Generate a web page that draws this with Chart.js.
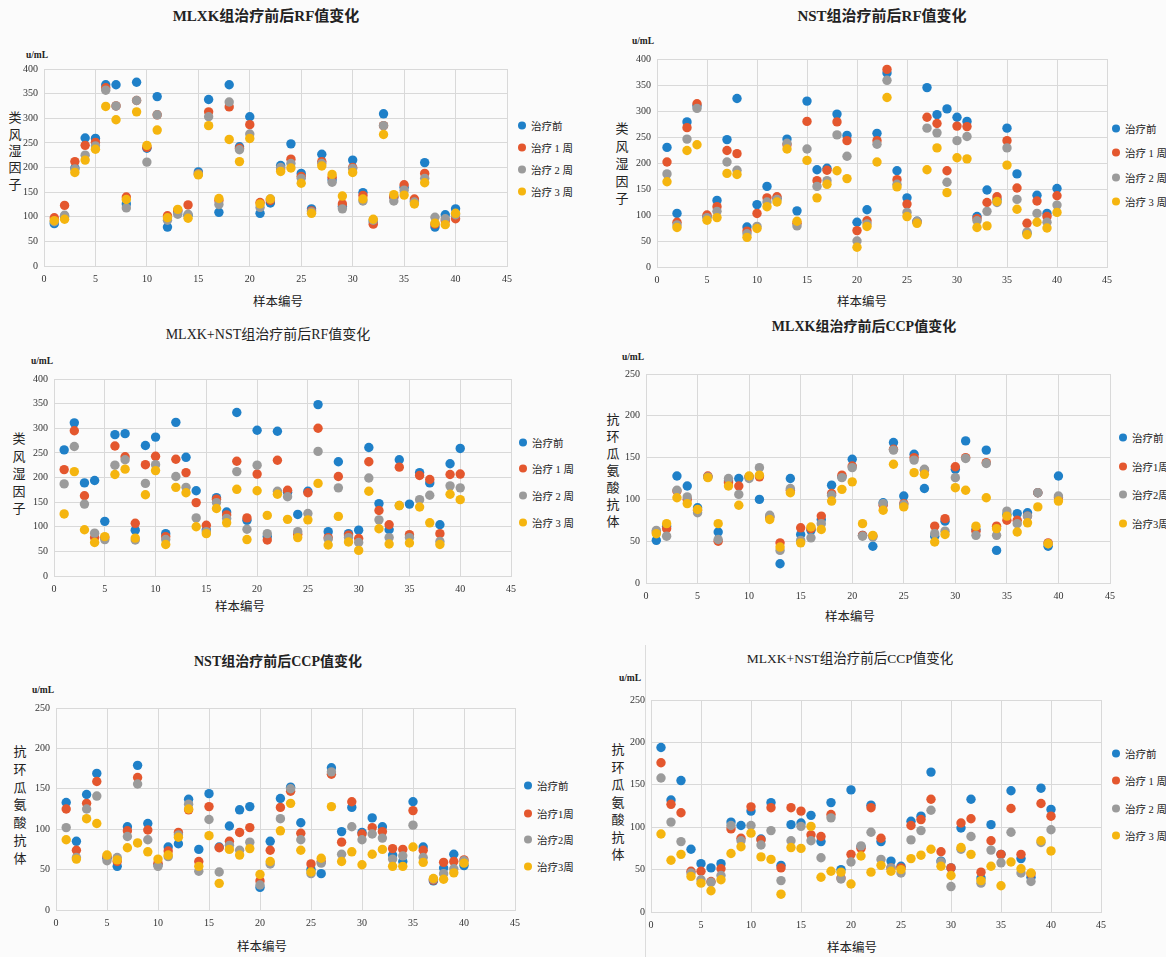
<!DOCTYPE html>
<html><head><meta charset="utf-8">
<script src="https://cdn.jsdelivr.net/npm/chart.js@4.4.0/dist/chart.umd.min.js"></script>
<style>
body{margin:0;width:1166px;height:957px;background:#fbfbfb;position:relative;overflow:hidden;font-family:"Liberation Serif","Noto Sans CJK SC",serif;color:#222;}
.a{position:absolute;white-space:nowrap;}
.c{transform:translate(-50%,-50%);}
.ttl{font-family:"Liberation Serif","Noto Sans CJK SC",serif;}
.unit{font-size:9.5px;font-weight:bold;}
.yl{font-family:"Noto Sans CJK SC",sans-serif;font-size:13px;text-align:center;width:16px;}
.xt{font-family:"Noto Sans CJK SC",sans-serif;font-size:12.5px;}
.lg{font-family:"Liberation Serif","Noto Sans CJK SC",serif;font-size:10.5px;display:flex;align-items:center;transform:translateY(-50%);}
.dot{display:inline-block;width:8px;height:8px;border-radius:50%;margin-right:5px;}
canvas{position:absolute;}
</style></head>
<body>
<div class="a" style="left:645px;top:645px;width:1px;height:312px;background:#dcdcdc"></div>
<script>
const samples = [1,2,3,4,5,6,7,8,9,10,11,12,13,14,15,16,17,18,19,20,21,22,23,24,25,26,27,28,29,30,31,32,33,34,35,36,37,38,39,40];

// Chart 1: MLXK RF
const rf1_before = [86,100,199,260,259,368,368,126,373,239,344,79,110,103,191,338,109,368,242,303,107,128,204,248,188,116,227,175,121,215,149,90,309,140,160,132,210,79,104,116];
const rf1_w1 = [98,123,212,245,251,362,325,140,336,241,307,102,113,124,187,313,133,323,239,287,129,133,197,217,182,112,212,180,126,200,143,85,285,140,165,136,188,85,92,96];
const rf1_w2 = [90,103,197,225,244,357,325,118,336,211,307,93,105,105,187,303,125,333,236,268,119,136,200,208,178,110,208,170,116,198,132,93,285,132,154,130,178,99,96,104];
const rf1_w3 = [92,95,190,215,237,324,297,135,313,245,276,98,115,97,185,285,137,257,212,259,126,136,192,199,168,107,203,186,142,190,136,95,267,145,144,126,169,87,84,107];

// Chart 2: NST RF
const rf2_before = [230,103,279,310,97,128,245,324,77,120,155,132,246,108,319,187,190,294,253,86,110,257,373,185,133,88,345,293,304,288,280,97,148,130,267,179,65,138,103,151];
const rf2_w1 = [202,86,268,314,100,116,224,218,69,103,133,135,235,84,280,166,186,279,243,70,89,243,380,168,121,87,288,276,185,271,270,93,124,135,243,152,84,127,97,137];
const rf2_w2 = [179,81,246,305,95,107,202,186,64,78,125,130,238,79,227,155,166,254,213,50,83,236,359,159,105,88,267,258,163,243,251,89,107,124,229,130,67,103,86,119];
const rf2_w3 = [164,76,224,235,90,95,180,178,57,74,116,125,227,88,205,133,159,185,170,38,78,202,326,154,97,84,187,229,143,210,208,76,79,126,196,111,62,86,75,105];

// Chart 3: MLXK+NST RF
const rf3_before = [256,311,189,194,111,287,289,93,265,282,86,312,241,173,94,159,130,332,113,296,80,294,170,125,172,348,90,232,86,93,261,147,94,236,146,210,189,104,228,259];
const rf3_w1 = [216,295,163,78,78,264,242,107,226,243,80,237,210,149,103,156,124,233,118,207,73,235,174,85,169,300,78,202,83,76,232,133,104,221,84,204,196,86,206,207];
const rf3_w2 = [187,263,146,87,74,225,236,73,188,226,74,202,180,118,90,149,117,212,95,225,86,172,161,90,127,253,75,179,78,68,199,114,78,143,78,155,164,70,183,179];
const rf3_w3 = [126,212,94,68,80,206,217,77,165,214,64,180,169,100,86,137,108,176,74,173,123,166,115,78,114,188,63,121,69,52,172,96,65,143,67,140,108,64,166,155];

// Chart 4: MLXK CCP
const ccp1_before = [51,68,128,116,90,127,61,122,125,127,100,79,23,125,58,63,76,117,127,148,57,44,96,168,104,154,113,56,74,136,170,64,159,39,82,83,84,108,44,128];
const ccp1_w1 = [61,65,110,100,87,128,50,120,116,127,127,79,48,111,66,65,80,107,129,140,57,56,93,160,95,150,135,68,77,139,150,62,144,68,75,75,80,108,48,102];
const ccp1_w2 = [63,56,111,103,84,127,52,125,106,125,138,81,39,113,51,54,71,105,126,138,56,55,95,159,94,147,136,59,62,126,149,57,143,57,86,71,80,108,47,104];
const ccp1_w3 = [59,71,102,95,88,126,71,116,93,128,129,76,43,108,48,67,64,98,112,121,71,57,87,142,91,132,130,49,58,114,111,68,102,65,80,61,72,91,47,98];

// Chart 5: NST CCP
const ccp2_before = [133,85,143,169,64,54,103,179,107,56,78,82,137,75,144,78,104,124,128,28,85,138,152,108,50,45,176,97,127,96,114,103,68,60,134,78,36,52,69,55];
const ccp2_w1 = [125,74,132,159,66,60,98,164,99,58,73,96,124,60,128,77,85,96,102,36,74,127,147,95,57,60,168,84,134,94,102,97,76,75,123,74,37,59,60,62];
const ccp2_w2 = [102,65,125,141,61,65,91,156,87,54,66,93,131,48,112,47,80,74,84,31,57,113,150,87,45,58,171,69,103,87,94,89,63,67,105,65,38,45,51,61];
const ccp2_w3 = [87,63,113,107,68,62,77,83,72,63,68,90,125,54,92,33,75,68,76,44,60,98,132,74,47,64,128,60,72,56,69,75,54,54,78,59,39,38,46,58];

// Chart 6: MLXK+NST CCP
const ccp3_before = [194,132,155,74,57,52,57,106,102,119,86,129,55,103,105,114,83,129,50,144,77,126,83,60,54,107,113,165,60,52,99,133,40,103,68,143,63,41,146,121];
const ccp3_w1 = [176,127,117,48,48,36,51,98,87,124,85,123,52,123,119,91,89,115,40,68,75,123,87,52,52,102,109,133,71,52,105,110,47,84,68,122,68,45,128,113];
const ccp3_w2 = [158,106,83,46,38,35,43,102,84,102,79,96,37,84,101,84,64,111,39,59,78,94,62,52,46,85,96,120,59,30,74,89,34,73,58,94,46,36,82,97];
const ccp3_w3 = [92,61,68,42,34,25,38,69,77,93,65,62,21,76,75,101,41,48,47,33,66,47,55,48,50,63,67,74,54,43,76,68,37,54,31,59,51,46,84,72];

const xTicks = [0,5,10,15,20,25,30,35,40,45];
const rfTicks = [0,50,100,150,200,250,300,350,400];
const ccpTicks = [0,50,100,150,200,250];

const legendSpaced = ['治疗前','治疗 1 周','治疗 2 周','治疗 3 周'];
const legendTight = ['治疗前','治疗1周','治疗2周','治疗3周'];
const rfLabel = '类风湿因子';
const ccpLabel = '抗环瓜氨酸抗体';

const COLORS = ['#1f80c8','#e4572e','#9b9b9b','#f5b50f'];

const charts = [
 {title:'MLXK组治疗前后RF值变化', tPos:[266,14], tSize:15, tBold:true,
  plot:{l:44,r:507,t:67,b:266}, yTicks:rfTicks, series:[rf1_before,rf1_w1,rf1_w2,rf1_w3],
  unit:[37,55], yl:{x:15,y:116,dy:16.7,text:rfLabel}, xt:[278,300],
  lg:{x:522,ys:[125,147,169,191],labels:legendSpaced}},
 {title:'NST组治疗前后RF值变化', tPos:[882,14], tSize:15, tBold:true,
  plot:{l:657,r:1107,t:57,b:267}, yTicks:rfTicks, series:[rf2_before,rf2_w1,rf2_w2,rf2_w3],
  unit:[643,41], yl:{x:622,y:127,dy:17.5,text:rfLabel}, xt:[862,300],
  lg:{x:1116,ys:[128,152,177,201],labels:legendSpaced}},
 {title:'MLXK+NST组治疗前后RF值变化', tPos:[268,333], tSize:14, tBold:false,
  plot:{l:54,r:511,t:377,b:576}, yTicks:rfTicks, series:[rf3_before,rf3_w1,rf3_w2,rf3_w3],
  unit:[42,361], yl:{x:19,y:437,dy:17.5,text:rfLabel}, xt:[240,605],
  lg:{x:523,ys:[442,468,495,522],labels:legendSpaced}},
 {title:'MLXK组治疗前后CCP值变化', tPos:[864,325], tSize:14, tBold:true,
  plot:{l:646,r:1110,t:372,b:583}, yTicks:ccpTicks, series:[ccp1_before,ccp1_w1,ccp1_w2,ccp1_w3],
  unit:[633,357], yl:{x:613,y:418,dy:17,text:ccpLabel}, xt:[850,615],
  lg:{x:1123,ys:[437,466,494,523],labels:legendTight}},
 {title:'NST组治疗前后CCP值变化', tPos:[278,660], tSize:14, tBold:true,
  plot:{l:56,r:515,t:706,b:910}, yTicks:ccpTicks, series:[ccp2_before,ccp2_w1,ccp2_w2,ccp2_w3],
  unit:[43,690], yl:{x:20,y:750,dy:17.8,text:ccpLabel}, xt:[262,945],
  lg:{x:528,ys:[785,813,839,866],labels:legendTight}},
 {title:'MLXK+NST组治疗前后CCP值变化', tPos:[850,657], tSize:13.5, tBold:false,
  plot:{l:651,r:1101,t:698,b:912}, yTicks:ccpTicks, series:[ccp3_before,ccp3_w1,ccp3_w2,ccp3_w3],
  unit:[630,678], yl:{x:618,y:748,dy:17.5,text:ccpLabel}, xt:[852,946],
  lg:{x:1116,ys:[753,780,808,835],labels:legendSpaced}}
];

function addDiv(cls, html, x, y, extra){
  const d = document.createElement('div');
  d.className = 'a ' + cls;
  d.innerHTML = html;
  d.style.left = x + 'px'; d.style.top = y + 'px';
  if (extra) Object.assign(d.style, extra);
  document.body.appendChild(d);
  return d;
}

const AXW = 40, PADT = 10, PADR = 14, AXH = 22;
const GRID = '#d9d9d9';
const tickFont = {family:'"Liberation Serif", serif', size:10};

charts.forEach((c, i) => {
  // title
  addDiv('c ttl', c.title, c.tPos[0], c.tPos[1], {fontSize:c.tSize+'px', fontWeight:c.tBold?'bold':'normal'});
  addDiv('c unit', 'u/mL', c.unit[0], c.unit[1]);
  [...c.yl.text].forEach((ch, k) => addDiv('c yl', ch, c.yl.x, c.yl.y + k*c.yl.dy));
  addDiv('c xt', '样本编号', c.xt[0], c.xt[1]);
  c.lg.labels.forEach((lab, k) => {
    addDiv('lg', '<span class="dot" style="background:'+COLORS[k]+'"></span>' + lab, c.lg.x - 4, c.lg.ys[k]);
  });

  const p = c.plot;
  const cv = document.createElement('canvas');
  const W = AXW + (p.r - p.l) + PADR, H = PADT + (p.b - p.t) + AXH;
  cv.width = W; cv.height = H;
  cv.style.left = (p.l - AXW) + 'px'; cv.style.top = (p.t - PADT) + 'px';
  cv.style.width = W + 'px'; cv.style.height = H + 'px';
  document.body.appendChild(cv);

  const yMax = c.yTicks[c.yTicks.length-1];
  new Chart(cv, {
    type:'scatter',
    data:{datasets: c.series.map((s, k) => ({
      label: c.lg.labels[k],
      data: samples.map((x, j) => ({x:x, y:s[j]})),
      backgroundColor: COLORS[k], borderWidth:0, pointRadius:4.7, pointHoverRadius:4.7,
      order: 4 - k
    }))},
    options:{
      responsive:false, animation:false, maintainAspectRatio:false,
      layout:{padding:{left:0,right:PADR,top:PADT,bottom:0}},
      plugins:{legend:{display:false}, tooltip:{enabled:false}},
      scales:{
        x:{type:'linear', min:0, max:45,
           afterBuildTicks:(s)=>{s.ticks = xTicks.map(v=>({value:v}));},
           ticks:{font:tickFont, color:'#333', padding:7, maxRotation:0, autoSkip:false},
           grid:{color:GRID, drawTicks:false}, border:{color:GRID},
           afterFit:(s)=>{s.height = AXH;}},
        y:{type:'linear', min:0, max:yMax,
           afterBuildTicks:(s)=>{s.ticks = c.yTicks.map(v=>({value:v}));},
           ticks:{font:tickFont, color:'#333', padding:6, autoSkip:false},
           grid:{color:GRID, drawTicks:false}, border:{color:GRID},
           afterFit:(s)=>{s.width = AXW;}}
      }
    }
  });
});
</script>
</body></html>
